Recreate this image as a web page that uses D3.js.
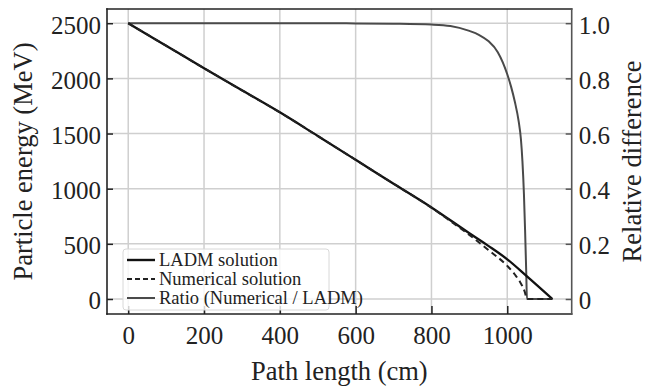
<!DOCTYPE html>
<html>
<head>
<meta charset="utf-8">
<script src="https://cdn.jsdelivr.net/npm/d3@7"></script>
<style>
  body { margin: 0; background: #fff; }
</style>
</head>
<body>
<div id="chart"></div>
<script>
// LADM solution (cm, MeV)
const pathLadm = [0, 100, 200, 300, 400, 500, 600, 700, 800, 900, 950, 1000, 1052, 1119];
const energyLadm = [2500, 2296, 2092, 1892, 1692, 1478, 1262, 1045, 830, 596, 482, 360, 205, 0];

// Numerical solution (cm, MeV)
const pathNum = [0, 100, 200, 300, 400, 500, 600, 700, 800, 850, 900, 950, 1000, 1020, 1033, 1046, 1052, 1119];
const energyNum = [2500, 2296, 2092, 1892, 1692, 1478, 1262, 1045, 828, 706, 581, 445, 300, 222, 158, 67, 0, 0];

// Ratio numerical / LADM
const pathRatio = [0, 500, 600, 700, 800, 850, 900, 925, 950, 975, 1000, 1010, 1020, 1030, 1036, 1040, 1044, 1047, 1050, 1052, 1119];
const ratio = [1, 1, 0.999, 0.998, 0.995, 0.99, 0.972, 0.958, 0.935, 0.895, 0.815, 0.77, 0.715, 0.645, 0.58, 0.5, 0.38, 0.25, 0.1, 0, 0];

const xTicks = [0, 200, 400, 600, 800, 1000];
const yTicks = [0, 500, 1000, 1500, 2000, 2500];
const rTicks = [0, 0.2, 0.4, 0.6, 0.8, 1.0];

const legendLabels = ["LADM solution", "Numerical solution", "Ratio (Numerical / LADM)"];

const serif = "'Liberation Serif', 'Times New Roman', serif";

const drawGraph = () => {
  const fullWidth = 647;
  const fullHeight = 387;
  const plot = { left: 107, right: 571.7, top: 9, bottom: 314 };

  const x = d3.scaleLinear().domain([-56, 1170]).range([plot.left, plot.right]);
  const y = d3.scaleLinear().domain([-136, 2629]).range([plot.bottom, plot.top]);
  const yr = d3.scaleLinear().domain([-0.0544, 1.0514]).range([plot.bottom, plot.top]);

  const svg = d3
    .select("#chart")
    .append("svg")
    .attr("width", fullWidth)
    .attr("height", fullHeight)
    .style("font-family", serif);

  // grid
  svg
    .append("g")
    .selectAll("line")
    .data(xTicks)
    .enter()
    .append("line")
    .attr("x1", d => x(d))
    .attr("x2", d => x(d))
    .attr("y1", plot.top)
    .attr("y2", plot.bottom)
    .style("stroke", "#cfcfcf")
    .style("stroke-width", 1.5);

  svg
    .append("g")
    .selectAll("line")
    .data(yTicks)
    .enter()
    .append("line")
    .attr("x1", plot.left)
    .attr("x2", plot.right)
    .attr("y1", d => y(d))
    .attr("y2", d => y(d))
    .style("stroke", "#cfcfcf")
    .style("stroke-width", 1.5);

  const line = d3.line().curve(d3.curveMonotoneX);

  // ratio (right axis)
  svg
    .append("path")
    .attr("d", line(pathRatio.map((p, i) => [x(p), yr(ratio[i])])))
    .style("fill", "none")
    .style("stroke", "#4a4a4a")
    .style("stroke-width", 2);

  // LADM
  svg
    .append("path")
    .attr("d", line(pathLadm.map((p, i) => [x(p), y(energyLadm[i])])))
    .style("fill", "none")
    .style("stroke", "#111")
    .style("stroke-width", 2.3);

  // numerical
  svg
    .append("path")
    .attr("d", line(pathNum.map((p, i) => [x(p), y(energyNum[i])])))
    .style("fill", "none")
    .style("stroke", "#222")
    .style("stroke-width", 2)
    .style("stroke-dasharray", "6,4");

  // axes
  const fontSize = "25px";
  const xAxis = d3
    .axisBottom(x)
    .tickValues(xTicks)
    .tickSizeInner(-8)
    .tickSizeOuter(0)
    .tickPadding(12)
    .tickFormat(d3.format("d"));
  const yAxis = d3
    .axisLeft(y)
    .tickValues(yTicks)
    .tickSizeInner(-6)
    .tickSizeOuter(0)
    .tickPadding(6)
    .tickFormat(d3.format("d"));
  const rAxis = d3
    .axisRight(yr)
    .tickValues(rTicks)
    .tickSizeInner(-6)
    .tickSizeOuter(0)
    .tickPadding(7)
    .tickFormat(d => (d === 0 ? "0" : d3.format(".1f")(d)));

  const styleAxis = (g, color) => {
    g.attr("font-family", null);
    g.select(".domain").remove();
    g.selectAll("line").style("stroke", color).style("stroke-width", 1.5);
    g.selectAll("text").style("font-family", serif).style("font-size", fontSize).style("fill", "#222");
  };

  svg
    .append("g")
    .attr("transform", `translate(0, ${plot.bottom})`)
    .call(xAxis)
    .call(g => styleAxis(g, "#222"));

  svg
    .append("g")
    .attr("transform", `translate(${plot.left}, 0)`)
    .call(yAxis)
    .call(g => styleAxis(g, "#222"))
    .call(g => g.selectAll("text").attr("dy", "0.4em"));

  svg
    .append("g")
    .attr("transform", `translate(${plot.right}, 0)`)
    .call(rAxis)
    .call(g => styleAxis(g, "#555"))
    .call(g => g.selectAll("text").attr("dy", "0.4em"));

  // spines
  const spine = (x1, y1, x2, y2, color) =>
    svg
      .append("line")
      .attr("x1", x1)
      .attr("y1", y1)
      .attr("x2", x2)
      .attr("y2", y2)
      .style("stroke", color)
      .style("stroke-width", 1.6)
      .style("stroke-linecap", "square");
  spine(plot.left, plot.top, plot.right, plot.top, "#222");
  spine(plot.left, plot.top, plot.left, plot.bottom, "#222");
  spine(plot.left, plot.bottom, plot.right, plot.bottom, "#222");
  spine(plot.right, plot.top, plot.right, plot.bottom, "#555");

  // axis labels
  svg
    .append("text")
    .attr("x", (plot.left + plot.right) / 2)
    .attr("y", 380)
    .attr("text-anchor", "middle")
    .style("font-size", "26.5px")
    .style("fill", "#222")
    .text("Path length (cm)");

  svg
    .append("text")
    .attr("transform", `translate(32, ${(plot.top + plot.bottom) / 2}) rotate(-90)`)
    .attr("text-anchor", "middle")
    .style("font-size", "26.5px")
    .style("fill", "#222")
    .text("Particle energy (MeV)");

  svg
    .append("text")
    .attr("transform", `translate(641, ${(plot.top + plot.bottom) / 2}) rotate(-90)`)
    .attr("text-anchor", "middle")
    .style("font-size", "26.5px")
    .style("fill", "#222")
    .text("Relative difference");

  // legend
  const legend = svg.append("g").attr("transform", "translate(123, 249)");
  legend
    .append("rect")
    .attr("width", 206)
    .attr("height", 61)
    .attr("rx", 3)
    .style("fill", "#fff")
    .style("fill-opacity", 0.8)
    .style("stroke", "#d8d8d8")
    .style("stroke-width", 1);

  const handles = [
    { stroke: "#111", width: 2.4, dash: null },
    { stroke: "#222", width: 2.2, dash: "5,3" },
    { stroke: "#4a4a4a", width: 2, dash: null }
  ];

  const item = legend
    .selectAll("g.item")
    .data(legendLabels)
    .enter()
    .append("g")
    .attr("class", "item")
    .attr("transform", (d, i) => `translate(0, ${11 + i * 19})`);

  item
    .append("line")
    .attr("x1", 4)
    .attr("x2", 32)
    .attr("y1", 0)
    .attr("y2", 0)
    .style("stroke", (d, i) => handles[i].stroke)
    .style("stroke-width", (d, i) => handles[i].width)
    .style("stroke-dasharray", (d, i) => handles[i].dash);

  item
    .append("text")
    .attr("x", 36)
    .attr("y", 6)
    .style("font-size", "18.5px")
    .style("fill", "#222")
    .text(d => d);
};

drawGraph();
</script>
</body>
</html>
